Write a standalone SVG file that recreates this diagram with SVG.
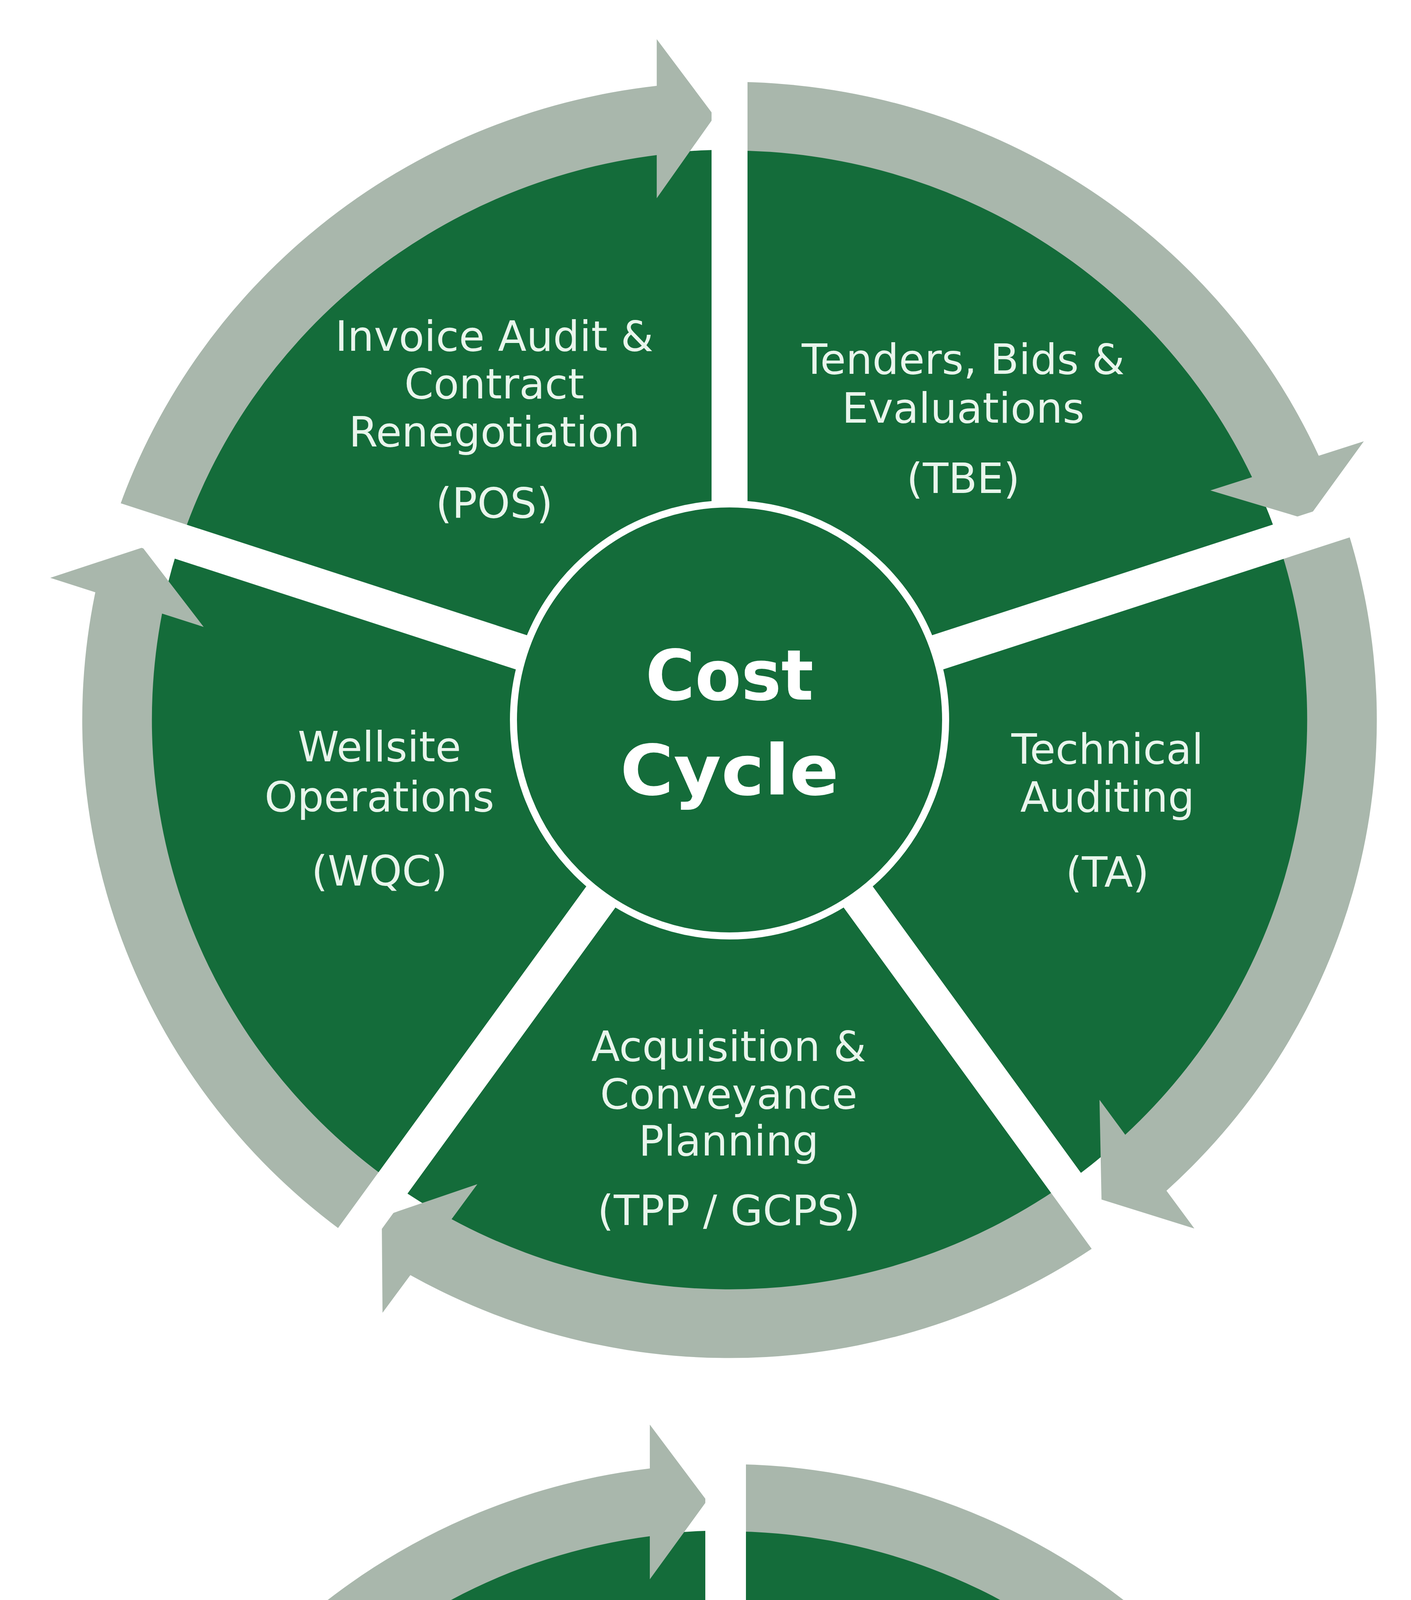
<svg xmlns="http://www.w3.org/2000/svg" xmlns:xlink="http://www.w3.org/1999/xlink" width="3611" height="7188" viewBox="0 0 3611 7188">
<style>
.disc{fill:#146c3a}
.arrow{fill:#a9b7ac}
.spoke{stroke:#ffffff;fill:none}
.hub{fill:#146c3a;stroke:#ffffff;stroke-width:18}
.lbl{font-family:"DejaVu Sans","Liberation Sans",sans-serif;fill:#e9f5ec;text-anchor:middle}
.hubt{font-family:"DejaVu Sans","Liberation Sans",sans-serif;font-weight:bold;fill:#ffffff;text-anchor:middle}
</style>
<defs>
<path id="arr5" d="M -1564.5 -508.3 A 1645 1645 0 0 1 -185 -1634.6 L -185 -1755 L -38 -1556 L -185 -1345 L -185 -1456.3 A 1468 1468 0 0 0 -1396.2 -453.6 Z"/>
<path id="arr4" d="M -1664 0 A 1664 1664 0 0 1 -194 -1652.7 L -194 -1765 L -48 -1570 L -194 -1369 L -194 -1479.3 A 1492 1492 0 0 0 -1492 0 Z"/>
</defs>
<rect x="0" y="0" width="3611" height="7188" fill="#ffffff"/>

<!-- ===== Cost Cycle ===== -->
<g id="cost-cycle" transform="translate(1867,1843)">
  <g transform="scale(1.007,0.993)">
    <circle class="disc" cx="0" cy="0" r="1470"/>
    <g id="cost-connectors" class="arrow">
      <use xlink:href="#arr5" href="#arr5"/>
      <use xlink:href="#arr5" href="#arr5" transform="rotate(72)"/>
      <use xlink:href="#arr5" href="#arr5" transform="rotate(144)"/>
      <use xlink:href="#arr5" href="#arr5" transform="rotate(216)"/>
      <use xlink:href="#arr5" href="#arr5" transform="rotate(288)"/>
    </g>
  </g>
  <g class="spoke" stroke-width="92">
    <line x1="0" y1="0" x2="0" y2="-1900"/>
    <line x1="0" y1="0" x2="0" y2="-1900" transform="rotate(72)"/>
    <line x1="0" y1="0" x2="0" y2="-1900" transform="rotate(144)"/>
    <line x1="0" y1="0" x2="0" y2="-1900" transform="rotate(216)"/>
    <line x1="0" y1="0" x2="0" y2="-1900" transform="rotate(288)"/>
  </g>
  <g id="cost-hub">
    <circle class="hub" cx="0" cy="0" r="553"/>
    <text class="hubt" font-size="178" x="0" y="-52" textLength="430" lengthAdjust="spacingAndGlyphs">Cost</text>
    <text class="hubt" font-size="178" x="0" y="191" textLength="560" lengthAdjust="spacingAndGlyphs">Cycle</text>
  </g>
</g>
<g id="node-pos-invoice" class="lbl" font-size="107">
  <text x="1265" y="898">Invoice Audit &amp;</text>
  <text x="1265" y="1020">Contract</text>
  <text x="1265" y="1143">Renegotiation</text>
  <text x="1265" y="1325">(POS)</text>
</g>
<g id="node-tbe" class="lbl" font-size="107">
  <text x="2465" y="957">Tenders, Bids &amp;</text>
  <text x="2465" y="1082">Evaluations</text>
  <text x="2465" y="1262">(TBE)</text>
</g>
<g id="node-ta" class="lbl" font-size="107">
  <text x="2834" y="1955">Technical</text>
  <text x="2834" y="2078">Auditing</text>
  <text x="2834" y="2270">(TA)</text>
</g>
<g id="node-tpp-gcps" class="lbl" font-size="107">
  <text x="1865" y="2716">Acquisition &amp;</text>
  <text x="1865" y="2838">Conveyance</text>
  <text x="1865" y="2958">Planning</text>
  <text x="1865" y="3136">(TPP / GCPS)</text>
</g>
<g id="node-wqc-ops" class="lbl" font-size="107">
  <text x="971" y="1949">Wellsite</text>
  <text x="971" y="2077">Operations</text>
  <text x="971" y="2267">(WQC)</text>
</g>

<!-- ===== QA/QC Cycle ===== -->
<g id="qaqc-cycle" transform="translate(1857,5412)">
  <circle class="disc" cx="0" cy="0" r="1494"/>
  <g id="qaqc-connectors" class="arrow">
    <use xlink:href="#arr4" href="#arr4"/>
    <use xlink:href="#arr4" href="#arr4" transform="rotate(90)"/>
    <use xlink:href="#arr4" href="#arr4" transform="rotate(180)"/>
    <use xlink:href="#arr4" href="#arr4" transform="rotate(270)"/>
  </g>
  <g class="spoke" stroke-width="104">
    <line x1="0" y1="0" x2="0" y2="-1840"/>
    <line x1="0" y1="0" x2="0" y2="-1840" transform="rotate(90)"/>
    <line x1="0" y1="0" x2="0" y2="-1840" transform="rotate(180)"/>
    <line x1="0" y1="0" x2="0" y2="-1840" transform="rotate(270)"/>
  </g>
  <g id="qaqc-hub">
    <circle class="hub" cx="0" cy="0" r="553"/>
    <text class="hubt" font-size="178" x="0" y="-37" textLength="780" lengthAdjust="spacingAndGlyphs">QA/QC</text>
    <text class="hubt" font-size="178" x="0" y="206" textLength="556" lengthAdjust="spacingAndGlyphs">Cycle</text>
  </g>
</g>
<g id="node-pos" class="lbl" font-size="107">
  <text x="1140" y="4699">Post-Operation</text>
  <text x="1140" y="4836">Services</text>
  <text x="1140" y="5005">(POS)</text>
</g>
<g id="node-tpp" class="lbl" font-size="107">
  <text x="2571" y="4699">Technical</text>
  <text x="2571" y="4836">Planning</text>
  <text x="2571" y="5005">(TPP)</text>
</g>
<g id="node-wqc" class="lbl" font-size="107">
  <text x="1140" y="6018">Wellsite Service</text>
  <text x="1140" y="6154">Delivery QC</text>
  <text x="1140" y="6328">(WQC)</text>
</g>
<g id="node-tpp-ta" class="lbl" font-size="107">
  <text x="2568" y="6018">Preparation &amp;</text>
  <text x="2568" y="6154">Mobilisation QC</text>
  <text x="2568" y="6328">(TPP / TA)</text>
</g>
</svg>
